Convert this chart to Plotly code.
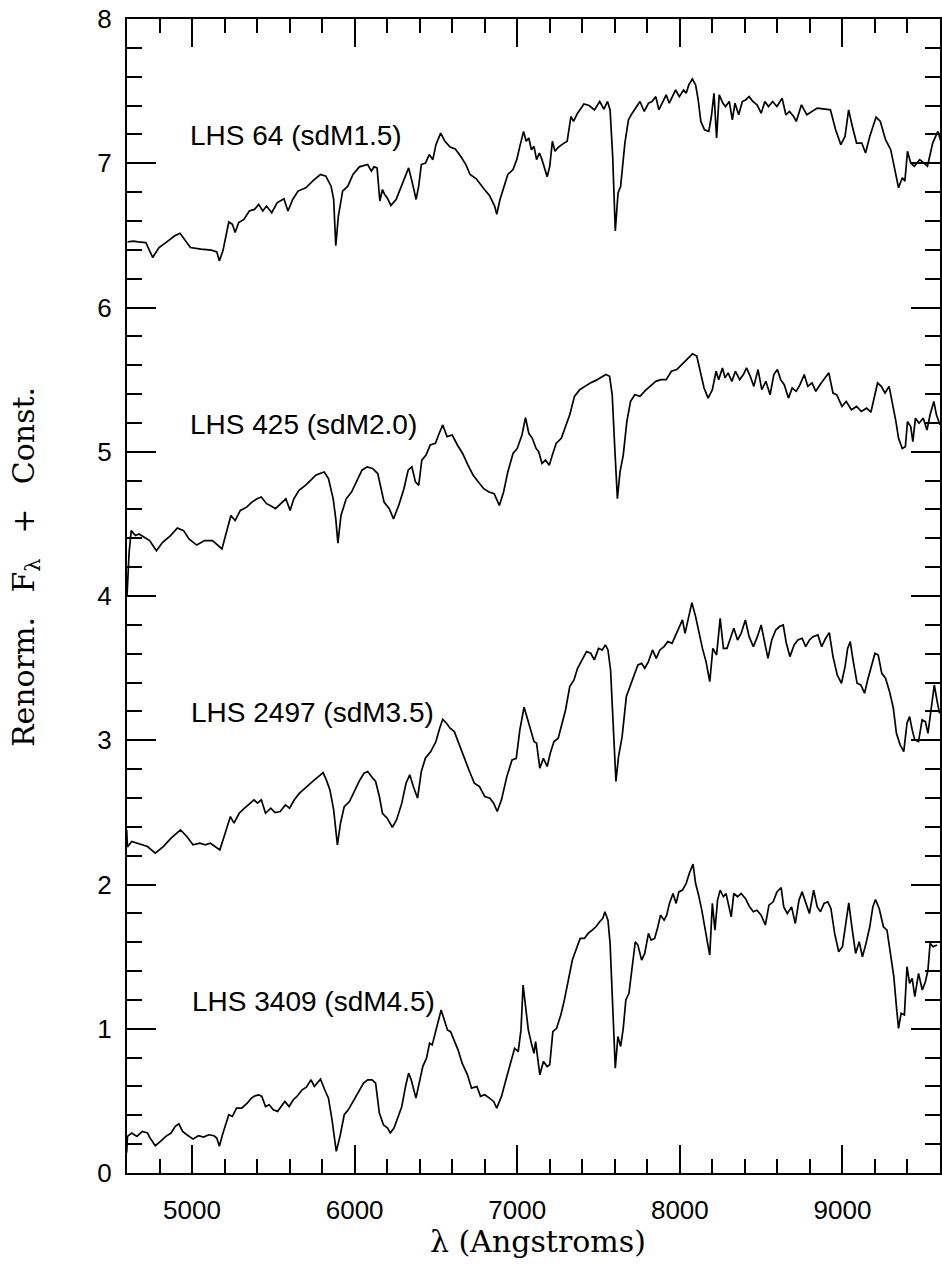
import plotly.graph_objects as go

# ---------------- data ----------------
wl_lhs64 = [4603, 4640, 4668, 4716, 4758, 4797, 4845, 4894, 4926, 4958, 4990, 5055, 5119, 5152, 5168, 5190,
            5210, 5226, 5248, 5265, 5287, 5319, 5352, 5384, 5410, 5435, 5458, 5490, 5523, 5565, 5590, 5619,
            5652, 5700, 5748, 5790, 5823, 5855, 5871, 5884, 5900, 5926, 5958, 5990, 6029, 6061, 6080, 6103,
            6119, 6138, 6155, 6171, 6184, 6200, 6223, 6255, 6297, 6332, 6355, 6378, 6394, 6410, 6436, 6459,
            6481, 6500, 6529, 6555, 6587, 6619, 6652, 6684, 6710, 6748, 6790, 6829, 6861, 6874, 6894, 6919,
            6942, 6974, 6997, 7016, 7039, 7055, 7071, 7087, 7103, 7119, 7136, 7152, 7168, 7184, 7200, 7216,
            7232, 7249, 7274, 7307, 7330, 7346, 7371, 7410, 7442, 7475, 7507, 7533, 7555, 7571, 7587, 7603,
            7620, 7636, 7662, 7684, 7707, 7732, 7755, 7781, 7807, 7829, 7852, 7871, 7894, 7916, 7935, 7958,
            7974, 7997, 8023, 8039, 8055, 8077, 8097, 8113, 8129, 8152, 8178, 8194, 8210, 8226, 8242, 8265,
            8281, 8304, 8323, 8339, 8362, 8384, 8404, 8426, 8449, 8475, 8500, 8523, 8545, 8571, 8597, 8629,
            8652, 8674, 8700, 8716, 8748, 8781, 8813, 8845, 8894, 8926, 8958, 8990, 9016, 9038, 9061, 9087,
            9119, 9142, 9168, 9207, 9233, 9265, 9297, 9320, 9345, 9368, 9384, 9400, 9420, 9442, 9475, 9500,
            9523, 9555, 9587, 9620]
fx_lhs64 = [6.455, 6.46, 6.455, 6.45, 6.347, 6.416, 6.455, 6.497, 6.515, 6.462, 6.416, 6.405, 6.398, 6.386, 6.324, 6.393,
            6.508, 6.593, 6.577, 6.520, 6.589, 6.611, 6.669, 6.680, 6.715, 6.669, 6.703, 6.657, 6.726, 6.754, 6.669, 6.749,
            6.807, 6.830, 6.883, 6.922, 6.910, 6.841, 6.749, 6.428, 6.634, 6.807, 6.841, 6.922, 6.975, 6.984, 6.991, 6.945,
            6.975, 6.968, 6.738, 6.818, 6.784, 6.761, 6.708, 6.749, 6.876, 6.968, 6.864, 6.749, 6.841, 6.991, 7.002, 7.060,
            7.025, 7.129, 7.209, 7.152, 7.113, 7.099, 7.048, 6.991, 6.922, 6.892, 6.830, 6.777, 6.703, 6.646, 6.749, 6.841,
            6.922, 6.956, 7.025, 7.117, 7.221, 7.152, 7.175, 7.094, 7.117, 7.025, 7.071, 7.025, 6.956, 6.906, 6.979, 7.152,
            7.083, 7.106, 7.129, 7.152, 7.324, 7.290, 7.347, 7.411, 7.400, 7.370, 7.428, 7.375, 7.428, 7.370, 7.048, 6.531,
            6.795, 6.841, 7.140, 7.301, 7.347, 7.393, 7.428, 7.359, 7.416, 7.428, 7.462, 7.370, 7.428, 7.474, 7.416, 7.474,
            7.508, 7.462, 7.508, 7.485, 7.543, 7.584, 7.543, 7.439, 7.290, 7.232, 7.221, 7.324, 7.485, 7.175, 7.474, 7.416,
            7.393, 7.428, 7.301, 7.416, 7.336, 7.428, 7.439, 7.462, 7.428, 7.405, 7.347, 7.428, 7.393, 7.428, 7.393, 7.451,
            7.336, 7.359, 7.324, 7.290, 7.405, 7.336, 7.359, 7.382, 7.375, 7.370, 7.232, 7.129, 7.186, 7.370, 7.255, 7.140,
            7.140, 7.071, 7.186, 7.320, 7.290, 7.163, 7.094, 6.956, 6.830, 6.899, 6.876, 7.083, 7.002, 6.979, 7.025, 7.002,
            6.979, 7.140, 7.221, 7.094]

wl_lhs425 = [4600, 4606, 4613, 4626, 4652, 4674, 4706, 4739, 4781, 4819, 4868, 4910, 4948, 4981, 5029, 5077,
             5126, 5158, 5184, 5206, 5239, 5265, 5297, 5336, 5368, 5400, 5426, 5458, 5481, 5513, 5545, 5577,
             5603, 5626, 5658, 5697, 5729, 5761, 5787, 5813, 5839, 5868, 5884, 5897, 5916, 5948, 5981, 6013,
             6045, 6077, 6110, 6142, 6158, 6181, 6213, 6239, 6271, 6303, 6329, 6352, 6374, 6394, 6413, 6439,
             6465, 6497, 6516, 6542, 6568, 6600, 6632, 6664, 6697, 6729, 6761, 6794, 6826, 6858, 6890, 6916,
             6942, 6974, 7000, 7029, 7051, 7071, 7093, 7116, 7132, 7152, 7174, 7197, 7216, 7239, 7271, 7297,
             7323, 7352, 7384, 7416, 7449, 7481, 7513, 7545, 7568, 7584, 7600, 7616, 7632, 7652, 7674, 7697,
             7723, 7755, 7787, 7819, 7852, 7884, 7916, 7948, 7981, 8013, 8045, 8078, 8104, 8126, 8149, 8174,
             8200, 8223, 8239, 8262, 8278, 8297, 8320, 8342, 8368, 8391, 8410, 8433, 8455, 8481, 8504, 8529,
             8555, 8578, 8600, 8620, 8642, 8668, 8691, 8716, 8739, 8765, 8787, 8813, 8836, 8862, 8891, 8916,
             8942, 8965, 8997, 9023, 9055, 9087, 9116, 9149, 9175, 9197, 9216, 9239, 9262, 9287, 9304, 9329,
             9345, 9368, 9387, 9400, 9420, 9433, 9449, 9471, 9497, 9520, 9539, 9562, 9578, 9600]
fx_lhs425 = [4.00, 4.15, 4.302, 4.453, 4.419, 4.430, 4.407, 4.384, 4.314, 4.372, 4.419, 4.472, 4.453, 4.395, 4.353, 4.384,
             4.384, 4.349, 4.326, 4.419, 4.558, 4.523, 4.593, 4.616, 4.651, 4.674, 4.686, 4.640, 4.628, 4.605, 4.640, 4.674,
             4.593, 4.674, 4.733, 4.767, 4.802, 4.837, 4.849, 4.860, 4.814, 4.674, 4.535, 4.367, 4.558, 4.674, 4.721, 4.791,
             4.872, 4.895, 4.884, 4.849, 4.767, 4.651, 4.605, 4.535, 4.628, 4.744, 4.872, 4.895, 4.791, 4.767, 4.942, 4.977,
             5.047, 5.058, 5.116, 5.186, 5.105, 5.116, 5.047, 4.988, 4.907, 4.837, 4.791, 4.744, 4.721, 4.709, 4.628, 4.721,
             4.860, 4.988, 5.023, 5.116, 5.237, 5.128, 5.093, 5.023, 5.000, 4.919, 4.942, 4.907, 4.977, 5.058, 5.093, 5.174,
             5.256, 5.384, 5.430, 5.453, 5.477, 5.493, 5.516, 5.535, 5.523, 5.395, 5.023, 4.674, 4.860, 4.977, 5.209, 5.349,
             5.395, 5.384, 5.423, 5.453, 5.488, 5.500, 5.500, 5.558, 5.570, 5.605, 5.640, 5.679, 5.663, 5.558, 5.442, 5.372,
             5.430, 5.558, 5.500, 5.581, 5.512, 5.547, 5.488, 5.558, 5.500, 5.535, 5.581, 5.523, 5.453, 5.570, 5.430, 5.488,
             5.395, 5.535, 5.570, 5.500, 5.465, 5.372, 5.442, 5.419, 5.465, 5.535, 5.453, 5.477, 5.419, 5.465, 5.512, 5.547,
             5.407, 5.395, 5.314, 5.349, 5.291, 5.314, 5.279, 5.302, 5.274, 5.384, 5.477, 5.453, 5.407, 5.453, 5.360, 5.209,
             5.093, 5.023, 5.035, 5.209, 5.174, 5.070, 5.233, 5.198, 5.233, 5.151, 5.256, 5.349, 5.256, 5.186]

wl_lhs2497 = [4598, 4603, 4629, 4661, 4693, 4726, 4774, 4823, 4871, 4929, 4968, 5006, 5048, 5081, 5113, 5145,
              5171, 5194, 5219, 5236, 5258, 5290, 5323, 5355, 5381, 5403, 5426, 5452, 5484, 5510, 5542, 5574,
              5600, 5629, 5661, 5694, 5726, 5758, 5790, 5806, 5826, 5848, 5871, 5894, 5913, 5936, 5968, 6000,
              6032, 6058, 6081, 6103, 6129, 6152, 6171, 6200, 6232, 6258, 6290, 6316, 6339, 6361, 6387, 6410,
              6435, 6468, 6500, 6523, 6542, 6565, 6587, 6613, 6639, 6671, 6703, 6736, 6768, 6800, 6832, 6855,
              6877, 6903, 6936, 6968, 6994, 7016, 7042, 7065, 7084, 7103, 7119, 7139, 7161, 7184, 7203, 7226,
              7252, 7274, 7297, 7323, 7349, 7371, 7403, 7426, 7452, 7474, 7500, 7523, 7542, 7558, 7574, 7590,
              7607, 7623, 7645, 7671, 7694, 7716, 7742, 7765, 7784, 7807, 7832, 7855, 7877, 7903, 7926, 7952,
              7974, 8000, 8016, 8032, 8055, 8074, 8097, 8119, 8139, 8161, 8184, 8203, 8226, 8248, 8268, 8290,
              8313, 8332, 8355, 8377, 8403, 8426, 8452, 8477, 8500, 8523, 8542, 8565, 8590, 8613, 8636, 8655,
              8677, 8703, 8726, 8752, 8774, 8797, 8819, 8849, 8872, 8897, 8919, 8942, 8968, 8994, 9016, 9032,
              9048, 9065, 9090, 9113, 9136, 9155, 9178, 9200, 9220, 9242, 9265, 9290, 9313, 9332, 9355, 9377,
              9397, 9413, 9429, 9445, 9468, 9490, 9510, 9526, 9542, 9565, 9581, 9597]
fx_lhs2497 = [2.38, 2.26, 2.298, 2.286, 2.275, 2.263, 2.217, 2.263, 2.321, 2.379, 2.333, 2.275, 2.286, 2.275, 2.286, 2.263,
              2.240, 2.321, 2.413, 2.471, 2.425, 2.494, 2.529, 2.564, 2.587, 2.564, 2.587, 2.494, 2.529, 2.499, 2.506, 2.552,
              2.529, 2.587, 2.633, 2.667, 2.702, 2.730, 2.760, 2.776, 2.725, 2.656, 2.517, 2.275, 2.425, 2.540, 2.575, 2.656,
              2.725, 2.771, 2.783, 2.748, 2.714, 2.610, 2.494, 2.460, 2.397, 2.448, 2.564, 2.702, 2.760, 2.679, 2.598, 2.783,
              2.875, 2.921, 2.991, 3.083, 3.145, 3.118, 3.083, 3.060, 2.979, 2.887, 2.794, 2.702, 2.679, 2.610, 2.598, 2.564,
              2.506, 2.587, 2.748, 2.864, 2.875, 3.072, 3.229, 3.141, 3.072, 2.991, 2.979, 2.806, 2.875, 2.818, 2.910, 2.991,
              3.014, 3.118, 3.210, 3.372, 3.418, 3.499, 3.568, 3.614, 3.603, 3.557, 3.637, 3.626, 3.661, 3.626, 3.487, 3.072,
              2.714, 2.887, 3.025, 3.303, 3.372, 3.430, 3.522, 3.533, 3.499, 3.545, 3.626, 3.568, 3.626, 3.649, 3.684, 3.672,
              3.730, 3.788, 3.834, 3.741, 3.857, 3.954, 3.857, 3.741, 3.637, 3.545, 3.406, 3.637, 3.591, 3.845, 3.637, 3.637,
              3.718, 3.776, 3.695, 3.741, 3.834, 3.718, 3.649, 3.718, 3.799, 3.672, 3.568, 3.695, 3.764, 3.788, 3.799, 3.672,
              3.580, 3.661, 3.695, 3.707, 3.649, 3.695, 3.718, 3.730, 3.649, 3.707, 3.746, 3.580, 3.453, 3.395, 3.510, 3.637,
              3.684, 3.557, 3.395, 3.383, 3.326, 3.418, 3.510, 3.603, 3.591, 3.464, 3.430, 3.337, 3.222, 3.048, 2.968, 2.921,
              3.118, 3.164, 3.072, 3.002, 2.991, 3.141, 3.129, 3.048, 3.187, 3.383, 3.279, 3.187]

wl_lhs3409 = [4598, 4603, 4629, 4661, 4694, 4726, 4742, 4774, 4806, 4839, 4871, 4897, 4919, 4942, 4968, 5006,
              5039, 5071, 5103, 5135, 5152, 5168, 5187, 5210, 5226, 5248, 5274, 5306, 5339, 5365, 5387, 5410,
              5429, 5452, 5474, 5500, 5526, 5548, 5571, 5597, 5623, 5645, 5677, 5703, 5732, 5752, 5774, 5790,
              5816, 5839, 5861, 5887, 5910, 5936, 5961, 5990, 6023, 6055, 6081, 6107, 6129, 6152, 6177, 6203,
              6219, 6242, 6268, 6290, 6313, 6332, 6348, 6365, 6377, 6397, 6419, 6442, 6461, 6477, 6500, 6519,
              6532, 6552, 6571, 6590, 6613, 6636, 6661, 6694, 6719, 6752, 6774, 6800, 6829, 6855, 6874, 6903,
              6936, 6968, 6984, 7006, 7023, 7036, 7052, 7068, 7087, 7103, 7113, 7129, 7139, 7161, 7184, 7200,
              7219, 7242, 7268, 7290, 7313, 7339, 7361, 7387, 7413, 7436, 7461, 7484, 7507, 7526, 7539, 7558,
              7571, 7584, 7603, 7619, 7636, 7652, 7668, 7687, 7710, 7726, 7742, 7765, 7784, 7807, 7823, 7845,
              7865, 7881, 7903, 7919, 7936, 7958, 7977, 7994, 8016, 8039, 8058, 8081, 8097, 8113, 8135, 8155,
              8171, 8184, 8200, 8216, 8232, 8248, 8268, 8284, 8300, 8316, 8332, 8355, 8377, 8403, 8429, 8452,
              8474, 8500, 8526, 8548, 8574, 8597, 8623, 8639, 8661, 8687, 8710, 8733, 8752, 8774, 8797, 8823,
              8845, 8865, 8887, 8910, 8929, 8952, 8977, 9000, 9016, 9039, 9058, 9081, 9103, 9123, 9145, 9168,
              9187, 9203, 9226, 9252, 9274, 9297, 9316, 9332, 9345, 9361, 9381, 9397, 9413, 9429, 9445, 9468,
              9491, 9510, 9526, 9539, 9558, 9581]
fx_lhs3409 = [0.14, 0.254, 0.277, 0.254, 0.288, 0.277, 0.242, 0.189, 0.219, 0.254, 0.277, 0.323, 0.341, 0.288, 0.265, 0.235,
              0.258, 0.249, 0.265, 0.258, 0.242, 0.185, 0.265, 0.346, 0.404, 0.392, 0.450, 0.450, 0.484, 0.519, 0.535, 0.542,
              0.531, 0.461, 0.473, 0.438, 0.427, 0.461, 0.496, 0.461, 0.508, 0.531, 0.577, 0.595, 0.646, 0.600, 0.634, 0.651,
              0.577, 0.519, 0.369, 0.150, 0.254, 0.404, 0.438, 0.496, 0.565, 0.623, 0.646, 0.646, 0.623, 0.415, 0.334, 0.311,
              0.277, 0.311, 0.392, 0.461, 0.600, 0.692, 0.646, 0.565, 0.519, 0.623, 0.738, 0.796, 0.900, 0.888, 0.980, 1.073,
              1.130, 1.061, 0.992, 0.980, 0.923, 0.854, 0.761, 0.681, 0.588, 0.600, 0.531, 0.542, 0.519, 0.496, 0.450, 0.531,
              0.669, 0.796, 0.865, 0.842, 0.992, 1.303, 1.130, 0.992, 0.900, 0.830, 0.911, 0.761, 0.681, 0.773, 0.738, 0.750,
              0.980, 1.003, 1.096, 1.200, 1.338, 1.476, 1.546, 1.626, 1.626, 1.661, 1.684, 1.707, 1.742, 1.765, 1.811, 1.753,
              1.592, 1.200, 0.727, 0.946, 0.877, 1.003, 1.200, 1.246, 1.453, 1.603, 1.580, 1.476, 1.522, 1.661, 1.615, 1.626,
              1.707, 1.788, 1.753, 1.788, 1.869, 1.938, 1.869, 1.949, 1.961, 2.007, 2.076, 2.141, 2.007, 1.938, 1.822, 1.707,
              1.592, 1.511, 1.869, 1.684, 1.892, 1.961, 1.915, 1.938, 1.845, 1.776, 1.938, 1.915, 1.938, 1.903, 1.845, 1.811,
              1.822, 1.788, 1.719, 1.857, 1.880, 1.949, 1.979, 1.845, 1.799, 1.845, 1.730, 1.892, 1.949, 1.869, 1.799, 1.961,
              1.845, 1.811, 1.869, 1.880, 1.834, 1.661, 1.534, 1.569, 1.707, 1.873, 1.707, 1.522, 1.603, 1.499, 1.592, 1.707,
              1.845, 1.896, 1.834, 1.707, 1.684, 1.499, 1.361, 1.153, 1.003, 1.107, 1.096, 1.430, 1.315, 1.349, 1.223, 1.384,
              1.269, 1.326, 1.407, 1.592, 1.569, 1.580]

star_labels = ["LHS 64 (sdM1.5)", "LHS 425 (sdM2.0)", "LHS 2497 (sdM3.5)", "LHS 3409 (sdM4.5)"]
label_wl = [4975, 4975, 4980, 4990]
label_fx = [7.19, 5.19, 3.19, 1.19]

x_range = [4600, 9600]
y_range = [0, 8]
x_title = "λ (Angstroms)"
y_title = "Renorm.\u2002 F<sub>λ</sub>\u2002 +\u2002 Const."

# ---------------- figure ----------------
fig = go.Figure()
for wl, fx in [(wl_lhs64, fx_lhs64), (wl_lhs425, fx_lhs425), (wl_lhs2497, fx_lhs2497), (wl_lhs3409, fx_lhs3409)]:
    fig.add_trace(go.Scatter(x=wl, y=fx, mode="lines", line=dict(color="black", width=1.7),
                             showlegend=False, hoverinfo="skip", cliponaxis=True))

for txt, xv, yv in zip(star_labels, label_wl, label_fx):
    fig.add_annotation(x=xv, y=yv, text=txt, showarrow=False, xanchor="left", yanchor="middle",
                       font=dict(family="Liberation Sans", size=28, color="black"))

tick_font = dict(family="Liberation Sans", size=26, color="black")
title_font = dict(family="DejaVu Serif", size=30, color="black")

# axis titles (placed as paper-referenced text)
fig.add_annotation(xref="paper", yref="paper", x=0.505, y=-0.059, text=x_title, showarrow=False,
                   xanchor="center", yanchor="middle", font=title_font)
fig.add_annotation(xref="paper", yref="paper", x=-0.1255, y=0.525, text=y_title, showarrow=False,
                   xanchor="center", yanchor="middle", textangle=-90, font=title_font)

fig.update_layout(
    template="none",
    width=942, height=1269,
    margin=dict(l=127, r=2, t=19, b=96),
    paper_bgcolor="white", plot_bgcolor="white",
    showlegend=False,
)
fig.update_xaxes(
    range=x_range, tick0=0, dtick=1000, ticks="inside", ticklen=28, tickwidth=1.5, tickcolor="black",
    showline=True, linewidth=2, linecolor="black", mirror="allticks", showgrid=False, zeroline=False,
    minor=dict(tick0=0, dtick=200, ticks="inside", ticklen=14, tickwidth=1.5, tickcolor="black", showgrid=False),
    tickfont=tick_font, ticklabelstandoff=13,
)
fig.update_yaxes(
    range=y_range, tick0=0, dtick=1, ticks="inside", ticklen=29, tickwidth=1.5, tickcolor="black",
    showline=True, linewidth=2, linecolor="black", mirror="allticks", showgrid=False, zeroline=False,
    minor=dict(tick0=0, dtick=0.2, ticks="inside", ticklen=15, tickwidth=1.5, tickcolor="black", showgrid=False),
    tickfont=tick_font, ticklabelstandoff=8,
)

fig.write_html("out.html")
